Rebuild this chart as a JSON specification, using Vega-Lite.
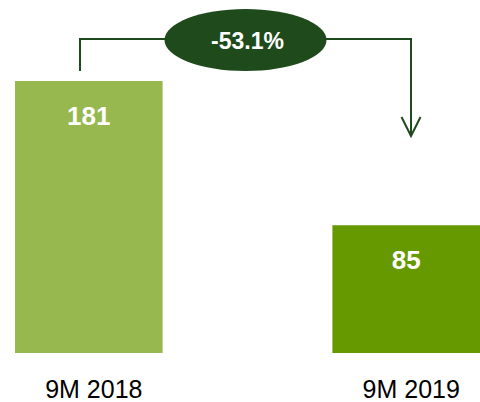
{
  "$schema": "https://vega.github.io/schema/vega-lite/v6.json",
  "width": 480,
  "height": 353,
  "padding": 0,
  "background": "white",
  "config": {"view": {"stroke": null}},
  "datasets": {
    "bars": [
      {"period": "9M 2018", "value": 181},
      {"period": "9M 2019", "value": 85}
    ],
    "bracket": [
      {"pos": 0, "v": 187.7, "ord": 1},
      {"pos": 0, "v": 209, "ord": 2},
      {"pos": 1, "v": 209, "ord": 3},
      {"pos": 1, "v": 144.5, "ord": 4}
    ],
    "arrow": [{"pos": 1, "v": 144.5}],
    "badge": [{"pos": 0.5, "v": 208.4, "label": "-53.1%"}]
  },
  "layer": [
    {
      "data": {"name": "bars"},
      "encoding": {
        "x": {
          "field": "period",
          "type": "nominal",
          "sort": null,
          "scale": {"range": [15, 480], "paddingInner": 0.535, "paddingOuter": 0},
          "axis": {
            "title": null,
            "domain": false,
            "ticks": false,
            "tickSize": 0,
            "grid": false,
            "labelAngle": 0,
            "labelFont": "Liberation Sans",
            "labelFontSize": 25,
            "labelColor": "#000000",
            "labelBaseline": "alphabetic",
            "labelPadding": 44,
            "labelOffset": 5
          }
        },
        "y": {
          "field": "value",
          "type": "quantitative",
          "scale": {"domain": [0, 235], "nice": false, "zero": true},
          "axis": null
        }
      },
      "layer": [
        {
          "mark": {"type": "bar"},
          "encoding": {
            "y2": {"datum": 0},
            "color": {
              "field": "period",
              "type": "nominal",
              "scale": {"domain": ["9M 2018", "9M 2019"], "range": ["#96b84f", "#669900"]},
              "legend": null
            }
          }
        },
        {
          "mark": {
            "type": "text",
            "font": "Liberation Sans",
            "fontSize": 26,
            "fontWeight": "bold",
            "color": "#ffffff",
            "baseline": "middle",
            "align": "center",
            "dy": 36
          },
          "encoding": {"text": {"field": "value", "type": "quantitative"}}
        }
      ]
    },
    {
      "encoding": {
        "x": {
          "field": "pos",
          "type": "quantitative",
          "scale": {"domain": [0, 1], "range": [80, 411], "nice": false, "zero": false},
          "axis": null
        },
        "y": {
          "field": "v",
          "type": "quantitative",
          "scale": {"domain": [0, 235], "nice": false, "zero": true},
          "axis": null
        }
      },
      "layer": [
        {
          "data": {"name": "bracket"},
          "mark": {"type": "line", "color": "#1f4b1c", "strokeWidth": 2},
          "encoding": {"order": {"field": "ord", "type": "quantitative"}}
        },
        {
          "data": {"name": "arrow"},
          "mark": {
            "type": "point",
            "shape": "M-0.5,-1L0,0L0.5,-1",
            "size": 1444,
            "filled": false,
            "stroke": "#1f4b1c",
            "strokeWidth": 2,
            "opacity": 1
          }
        },
        {
          "data": {"name": "badge"},
          "mark": {
            "type": "point",
            "shape": "M-1,0C-1,-0.2115,-0.5523,-0.383,0,-0.383C0.5523,-0.383,1,-0.2115,1,0C1,0.2115,0.5523,0.383,0,0.383C-0.5523,0.383,-1,0.2115,-1,0Z",
            "size": 26244,
            "filled": true,
            "fill": "#1f4b1c",
            "strokeWidth": 0,
            "opacity": 1
          }
        },
        {
          "data": {"name": "badge"},
          "mark": {
            "type": "text",
            "font": "Liberation Sans",
            "fontSize": 23,
            "fontWeight": "bold",
            "color": "#ffffff",
            "baseline": "middle",
            "align": "center",
            "dx": 2,
            "dy": 2
          },
          "encoding": {"text": {"field": "label", "type": "nominal"}}
        }
      ]
    }
  ],
  "resolve": {"scale": {"x": "independent"}}
}
